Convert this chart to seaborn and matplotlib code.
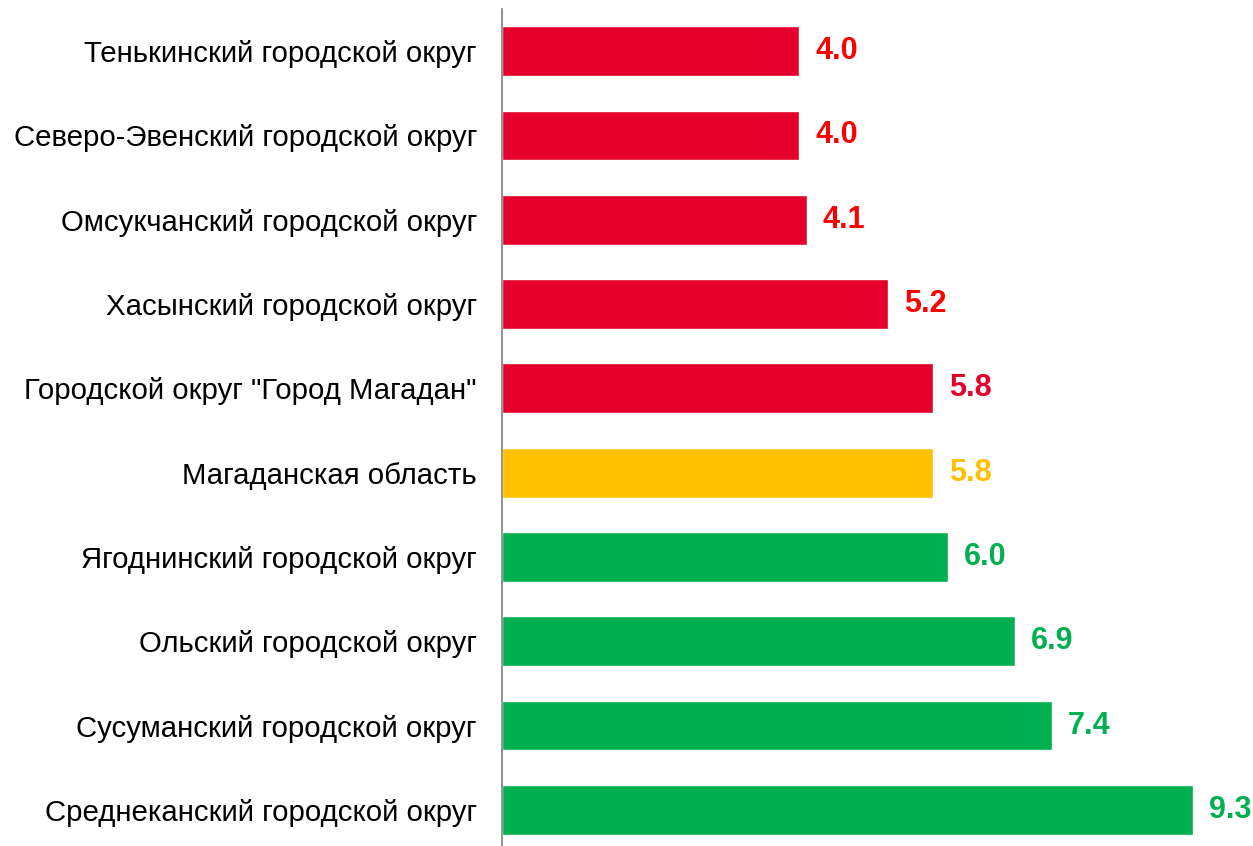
import matplotlib
matplotlib.use("Agg")
import matplotlib.pyplot as plt
import pandas as pd
import seaborn as sns

# ── данные ──
districts = [
    "Тенькинский городской округ",
    "Северо-Эвенский городской округ",
    "Омсукчанский городской округ",
    "Хасынский городской округ",
    'Городской округ "Город Магадан"',
    "Магаданская область",
    "Ягоднинский городской округ",
    "Ольский городской округ",
    "Сусуманский городской округ",
    "Среднеканский городской округ",
]
values = [4.0, 4.0, 4.1, 5.2, 5.8, 5.8, 6.0, 6.9, 7.4, 9.3]
bar_colors = ["#E4002B"] * 5 + ["#FFC000"] + ["#00B050"] * 4
label_colors = ["#FF0000"] * 4 + ["#E4002B", "#FFC000"] + ["#00B050"] * 4

sns.set_theme(style="white")
plt.rcParams["font.family"] = ["Liberation Sans", "DejaVu Sans"]

df = pd.DataFrame({"district": districts, "value": values})

fig = plt.figure(figsize=(12.53, 8.46), dpi=100)
ax = fig.add_axes([502 / 1253, -6 / 846, 751 / 1253, 843 / 846])

sns.barplot(data=df, x="value", y="district", hue="district",
            palette=bar_colors, orient="h", width=0.59,
            legend=False, ax=ax, saturation=1)

# подписи значений справа от столбцов
for i, (v, c) in enumerate(zip(values, label_colors)):
    ax.annotate(f"{v:.1f}", xy=(v, i), xytext=(11.5, 0), textcoords="offset points",
                va="center", ha="left", fontsize=22, fontweight="bold", color=c)

ax.set_xlim(0, 10.11)
ax.set_ylim(9.5, -0.5)
ax.set_xlabel("")
ax.set_ylabel("")
ax.set_xticks([])
ax.tick_params(axis="y", length=0, labelsize=21.2, pad=18, colors="black")
for side in ["top", "right", "bottom"]:
    ax.spines[side].set_visible(False)
ax.spines["left"].set_color("#808080")
ax.spines["left"].set_linewidth(1.2)

fig.savefig("out.png", dpi=100, facecolor="white")
